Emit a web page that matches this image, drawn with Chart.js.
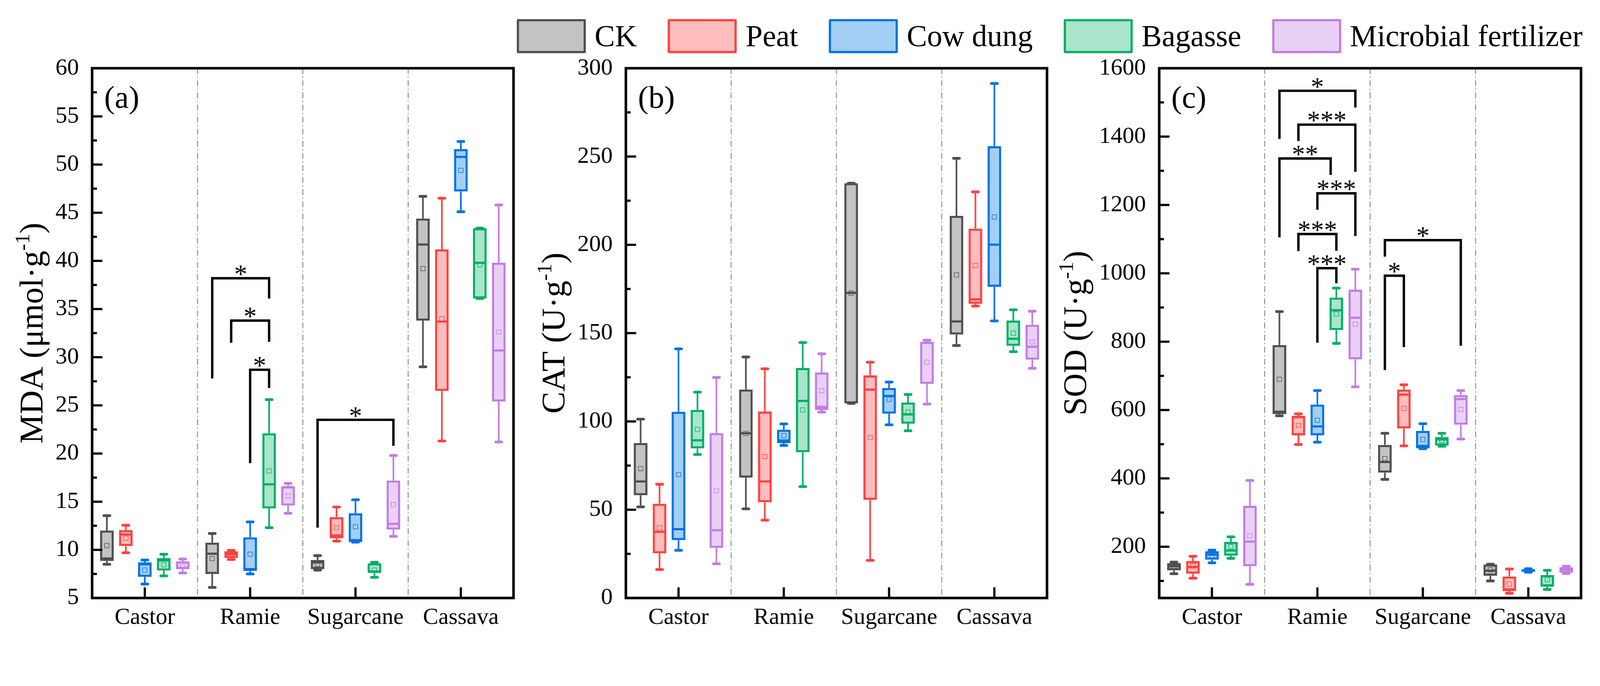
<!DOCTYPE html>
<html>
<head>
<meta charset="utf-8">
<script src="https://cdn.jsdelivr.net/npm/chart.js@4.4.1/dist/chart.umd.min.js"></script>
<style>
  html, body { margin: 0; padding: 0; background: #fff; overflow: hidden; }
  #wrap { position: relative; width: 4359px; height: 1757px; overflow: hidden; background: #fff; transform-origin: 0 0; }
  #wrap canvas { position: absolute; top: 0; }
  #legend { position: absolute; left: 1408px; top: 52px; display: flex; align-items: center;
            font-family: 'Liberation Serif', 'Times New Roman', serif; font-size: 83px; line-height: 1; color: #000; }
  .item { display: flex; align-items: center; margin-right: 84px; white-space: nowrap; }
  .swatch { box-sizing: border-box; width: 188px; height: 93px; border: 6px solid; border-radius: 4px; margin-right: 24px; }
</style>
</head>
<body>
<div id="wrap">
  <canvas id="mdaChart" width="1420" height="1757" style="left:0px"></canvas>
  <canvas id="catChart" width="1452" height="1757" style="left:1420px"></canvas>
  <canvas id="sodChart" width="1487" height="1757" style="left:2872px"></canvas>
  <div id="legend"></div>
</div>
<script>
// Box plots of MDA, CAT and SOD per crop and amendment

const CATEGORIES = ['Castor', 'Ramie', 'Sugarcane', 'Cassava'];
const SERIES = ['CK', 'Peat', 'Cow dung', 'Bagasse', 'Microbial fertilizer'];

// every row: [min, Q1, median, Q3, max, mean] for Castor, Ramie, Sugarcane, Cassava
const mdaCK      = [[8.5, 8.85, 9.1, 12.0, 13.55, 10.45], [6.1, 7.5, 9.6, 10.75, 11.7, 9.1], [7.9, 8.0, 8.7, 8.95, 9.4, 8.5], [29.0, 33.8, 41.7, 44.4, 46.7, 39.2]];
const mdaPeat    = [[9.7, 10.4, 11.6, 12.05, 12.55, 11.2], [9.0, 9.15, 9.55, 9.85, 9.95, 9.55], [10.9, 11.2, 11.5, 13.4, 14.45, 12.3], [21.3, 26.5, 33.7, 41.2, 46.5, 34.0]];
const mdaCow     = [[6.45, 7.2, 8.5, 8.7, 8.95, 7.9], [7.5, 7.8, 8.0, 11.3, 12.9, 9.55], [10.8, 10.8, 11.0, 13.8, 15.2, 12.4], [45.1, 47.2, 50.8, 51.6, 52.4, 49.4]];
const mdaBagasse = [[7.3, 7.85, 8.9, 9.15, 9.55, 8.45], [12.3, 14.3, 16.8, 22.1, 25.6, 18.2], [7.15, 7.6, 7.75, 8.6, 8.7, 7.9], [36.1, 36.1, 39.8, 43.4, 43.4, 39.6]];
const mdaMicro   = [[7.6, 8.0, 8.7, 8.8, 9.05, 8.25], [13.8, 14.6, 16.5, 16.6, 16.9, 15.6], [11.4, 12.1, 12.7, 17.2, 19.8, 14.7], [21.2, 25.4, 30.7, 39.8, 45.8, 32.6]];

const catCK      = [[51.6, 58.2, 66.0, 87.8, 101.3, 73.3], [50.5, 68.2, 93.3, 118.1, 136.5, 93.2], [110.2, 110.2, 172.8, 234.9, 234.9, 172.7], [143.0, 149.2, 156.6, 216.4, 249.0, 183.0]];
const catPeat    = [[16.1, 25.3, 37.5, 53.4, 64.4, 39.8], [44.1, 54.2, 66.0, 105.6, 129.8, 80.1], [21.3, 55.6, 118.0, 126.1, 133.5, 90.9], [165.3, 166.6, 169.1, 209.2, 230.0, 188.3]];
const catCow     = [[27.0, 32.8, 39.0, 105.5, 141.1, 69.9], [86.4, 87.7, 89.2, 95.3, 98.6, 92.0], [98.1, 104.4, 114.4, 118.9, 122.3, 112.5], [156.9, 176.2, 200.1, 255.9, 291.4, 215.8]];
const catBagasse = [[81.3, 84.7, 89.3, 106.5, 116.6, 95.5], [63.1, 82.6, 111.6, 130.3, 144.7, 106.5], [94.7, 98.75, 104.0, 110.7, 115.3, 105.3], [139.5, 142.8, 146.8, 157.1, 163.2, 150.0]];
const catMicro   = [[19.4, 28.4, 38.4, 93.4, 124.9, 60.8], [105.3, 106.5, 108.2, 127.7, 138.3, 117.4], [109.8, 121.25, 144.5, 145.0, 146.0, 133.5], [130.1, 135.0, 142.3, 154.7, 162.4, 145.1]];

const sodCK      = [[121, 131, 143, 152, 155, 141], [583, 588, 595, 790, 888, 690], [397, 417, 448, 498, 532, 458], [100, 115, 130, 148, 149, 132.5]];
const sodPeat    = [[108, 121, 141, 158, 172, 144], [499, 526, 579, 583, 589, 555], [495, 546, 645, 660, 674, 605], [64, 70, 75, 113, 135, 91]];
const sodCow     = [[153, 162, 177, 187, 190, 174], [506, 526, 552, 616, 657, 570], [487, 488, 495, 539, 560, 514], [125.5, 126.6, 130, 134, 135.4, 131]];
const sodBagasse = [[166, 174, 189, 214, 229, 200], [795, 834, 892, 929, 957, 881], [494, 496, 514, 521, 532, 511], [75, 83, 87, 117, 131, 104]];
const sodMicro   = [[90, 143, 215, 320, 394, 232], [668, 748, 870, 952, 1012, 851], [515, 557, 632, 644, 657, 602], [122, 124, 134, 140, 143, 134]];

// axis ranges and labelled ticks
const mdaRange = [5, 60];
const mdaTicks = [5, 10, 15, 20, 25, 30, 35, 40, 45, 50, 55, 60];
const catRange = [0, 300];
const catTicks = [0, 50, 100, 150, 200, 250, 300];
const sodRange = [50, 1600];
const sodTicks = [200, 400, 600, 800, 1000, 1200, 1400, 1600];

// significance brackets: [category, from series, to series, left foot, right foot, top, label]
const mdaBrackets = [
  [1, 0, 3, 27.8, 36.1, 38.2, '*'],
  [1, 1, 3, 31.5, 31.6, 33.8, '*'],
  [1, 2, 3, 19.0, 26.8, 28.7, '*'],
  [2, 0, 4, 12.3, 20.8, 23.5, '*']
];
const sodBrackets = [
  [1, 0, 4, 1393, 1485, 1534, '*'],
  [1, 1, 4, 1387, 1297, 1435, '***'],
  [1, 0, 2.7, 1105, 1288, 1336, '**'],
  [1, 2, 4, 1186, 1109, 1234, '***'],
  [1, 1, 3, 1065, 1066, 1115, '***'],
  [1, 2, 3, 797, 971, 1015, '***'],
  [2, 0, 4, 1049, 788, 1097, '*'],
  [2, 0, 1, 717, 784, 993, '*']
];

const LINE_COLORS = ['#4f4f4f', '#ff4141', '#0072e3', '#00ae66', '#c27de2'];
const FILL_COLORS = ['#c3c3c3', '#ffbdbd', '#a3cff4', '#a8e5ca', '#e9d0f5'];

const FONT = "'Liberation Serif', 'Times New Roman', serif";
Chart.defaults.font.family = FONT;
Chart.defaults.color = '#000';

// fit the 4359 x 1757 layout into whatever viewport the page gets
const PAGE_W = 4359, PAGE_H = 1757;
const fit = Math.min(window.innerWidth / PAGE_W, window.innerHeight / PAGE_H) || 1;
document.getElementById('wrap').style.transform = 'scale(' + fit + ')';
const pixelRatio = fit * (window.devicePixelRatio || 1);

function line(ctx, x1, y1, x2, y2) {
  ctx.beginPath();
  ctx.moveTo(x1, y1);
  ctx.lineTo(x2, y2);
  ctx.stroke();
}

const boxPlotPlugin = {
  id: 'boxExtras',
  beforeDatasetsDraw(chart) {
    const { ctx, chartArea: a, scales: { x } } = chart;
    ctx.save();
    ctx.strokeStyle = '#8a8a8a';
    ctx.lineWidth = 2.5;
    ctx.setLineDash([16, 7, 3, 7]);
    for (let i = 1; i < CATEGORIES.length; i++) {
      const px = (x.getPixelForValue(i - 1) + x.getPixelForValue(i)) / 2;
      line(ctx, px, a.top, px, a.bottom);
    }
    ctx.restore();
  },
  afterDatasetsDraw(chart) {
    const { ctx, scales: { y } } = chart;
    ctx.save();
    chart.data.datasets.forEach((ds, di) => {
      chart.getDatasetMeta(di).data.forEach((bar, ci) => {
        const [mn, q1, md, q3, mx, mean] = ds.stats[ci];
        const cx = bar.x, half = bar.width / 2;
        ctx.strokeStyle = ds.borderColor;
        ctx.lineCap = 'butt';
        ctx.lineWidth = 4.5;
        line(ctx, cx, y.getPixelForValue(q3), cx, y.getPixelForValue(mx));
        line(ctx, cx, y.getPixelForValue(q1), cx, y.getPixelForValue(mn));
        ctx.lineWidth = 7.5;
        ctx.lineCap = 'round';
        line(ctx, cx - 8, y.getPixelForValue(mx), cx + 8, y.getPixelForValue(mx));
        line(ctx, cx - 8, y.getPixelForValue(mn), cx + 8, y.getPixelForValue(mn));
        ctx.lineCap = 'butt';
        ctx.lineWidth = 6;
        line(ctx, cx - half + 4, y.getPixelForValue(md), cx + half - 4, y.getPixelForValue(md));
        ctx.lineWidth = 1.5;
        const my = y.getPixelForValue(mean);
        ctx.strokeRect(cx - 6, my - 6, 12, 12);
      });
    });
    ctx.restore();
  },
  afterDraw(chart, args, opts) {
    const { ctx, chartArea: a, scales: { x, y } } = chart;
    ctx.save();
    ctx.strokeStyle = '#000';
    ctx.fillStyle = '#000';

    // inward ticks
    ctx.lineWidth = 6;
    const major = y.ticks.map(t => t.value);
    const step = major[1] - major[0];
    major.forEach(v => {
      const py = y.getPixelForValue(v);
      line(ctx, a.left, py, a.left + 28, py);
      if (v - step / 2 >= y.min) {
        const pm = y.getPixelForValue(v - step / 2);
        line(ctx, a.left, pm, a.left + 13, pm);
      }
    });
    CATEGORIES.forEach((c, i) => {
      const px = x.getPixelForValue(i);
      line(ctx, px, a.bottom, px, a.bottom - 29);
    });

    // frame
    ctx.lineWidth = 7;
    ctx.strokeRect(a.left, a.top, a.right - a.left, a.bottom - a.top);

    // significance brackets
    const xAt = (s, cat) => {
      const i = Math.floor(s), f = s - i;
      const e0 = chart.getDatasetMeta(i).data[cat];
      if (!f) return e0.x;
      const e1 = chart.getDatasetMeta(i + 1).data[cat];
      return e0.x + (e1.x - e0.x) * f;
    };
    (opts.brackets || []).forEach(([cat, from, to, foot1, foot2, top, label]) => {
      const x1 = xAt(from, cat), x2 = xAt(to, cat), yt = y.getPixelForValue(top);
      ctx.lineWidth = 6.5;
      ctx.lineJoin = 'miter';
      ctx.beginPath();
      ctx.moveTo(x1, y.getPixelForValue(foot1));
      ctx.lineTo(x1, yt);
      ctx.lineTo(x2, yt);
      ctx.lineTo(x2, y.getPixelForValue(foot2));
      ctx.stroke();
      ctx.font = '72px ' + FONT;
      ctx.textAlign = 'center';
      ctx.textBaseline = 'alphabetic';
      ctx.fillText(label, (x1 + x2) / 2, yt + 12);
    });

    // panel letter
    ctx.font = '86px ' + FONT;
    ctx.textAlign = 'left';
    ctx.textBaseline = 'alphabetic';
    ctx.fillText(opts.letter, a.left + 33, a.top + 108);

    // y title with superscript
    ctx.font = '64px ' + FONT;
    const lw = Math.max(...y.ticks.map(t => ctx.measureText(String(t.label)).width));
    const bx = a.left - 36 - lw - 35;
    const [main, sup, close] = opts.title;
    ctx.font = '90px ' + FONT;
    const w0 = ctx.measureText(main).width, w2 = ctx.measureText(close).width;
    ctx.font = '56px ' + FONT;
    const w1 = ctx.measureText(sup).width;
    ctx.translate(bx, (a.top + a.bottom) / 2);
    ctx.rotate(-Math.PI / 2);
    const tx = -(w0 + w1 + w2) / 2;
    ctx.font = '90px ' + FONT;
    ctx.fillText(main, tx, 0);
    ctx.font = '56px ' + FONT;
    ctx.fillText(sup, tx + w0, -36);
    ctx.font = '90px ' + FONT;
    ctx.fillText(close, tx + w0 + w1, 0);
    ctx.restore();
  }
};

function boxDatasets(rows) {
  return rows.map((r, i) => ({
    label: SERIES[i],
    data: r.map(s => [s[1], s[3]]),
    stats: r,
    backgroundColor: FILL_COLORS[i],
    borderColor: LINE_COLORS[i],
    borderWidth: 6,
    borderSkipped: false,
    barPercentage: 0.72,
    categoryPercentage: 0.9
  }));
}

function drawBoxPanel(canvasId, rows, range, ticks, opts) {
  const ctx = document.getElementById(canvasId);
  if (!ctx) return;
  new Chart(ctx, {
    type: 'bar',
    data: { labels: CATEGORIES, datasets: boxDatasets(rows) },
    options: {
      responsive: false,
      devicePixelRatio: pixelRatio,
      animation: false,
      events: [],
      layout: { padding: { left: 0, top: 186, right: opts.right, bottom: 0 } },
      plugins: {
        legend: { display: false },
        tooltip: { enabled: false },
        boxExtras: { letter: opts.letter, title: opts.title, brackets: opts.brackets }
      },
      scales: {
        x: {
          grid: { display: false, drawTicks: false },
          border: { display: false },
          ticks: { font: { size: 63 }, color: '#000', padding: 16, autoSkip: false, maxRotation: 0 },
          afterFit: s => { s.height = 127; }
        },
        y: {
          min: range[0],
          max: range[1],
          grid: { display: false, drawTicks: false },
          border: { display: false },
          ticks: { font: { size: 64 }, color: '#000', padding: 36, callback: v => String(v) },
          afterBuildTicks: s => { s.ticks = ticks.map(v => ({ value: v })); },
          afterFit: s => { s.width = opts.left; }
        }
      }
    },
    plugins: [boxPlotPlugin]
  });
}

drawBoxPanel('mdaChart', [mdaCK, mdaPeat, mdaCow, mdaBagasse, mdaMicro], mdaRange, mdaTicks,
  { left: 251, right: 21, letter: '(a)', title: ['MDA (μmol·g', '-1', ')'], brackets: mdaBrackets });
drawBoxPanel('catChart', [catCK, catPeat, catCow, catBagasse, catMicro], catRange, catTicks,
  { left: 285, right: 20, letter: '(b)', title: ['CAT (U·g', '-1', ')'], brackets: [] });
drawBoxPanel('sodChart', [sodCK, sodPeat, sodCow, sodBagasse, sodMicro], sodRange, sodTicks,
  { left: 286, right: 52, letter: '(c)', title: ['SOD (U·g', '-1', ')'], brackets: sodBrackets });

// legend shared by the three panels
const legend = document.getElementById('legend');
SERIES.forEach((name, i) => {
  const item = document.createElement('div');
  item.className = 'item';
  const sw = document.createElement('span');
  sw.className = 'swatch';
  sw.style.background = FILL_COLORS[i];
  sw.style.borderColor = LINE_COLORS[i];
  item.append(sw, document.createTextNode(name));
  legend.append(item);
});
</script>
</body>
</html>
